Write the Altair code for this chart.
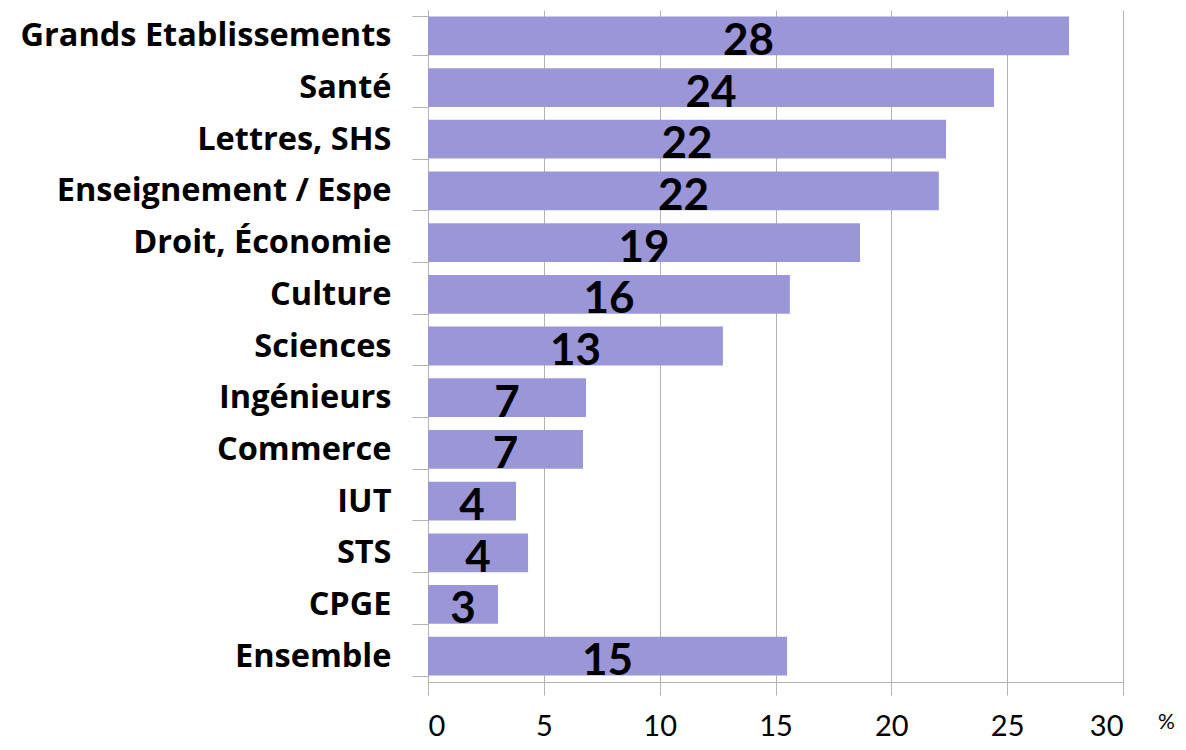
import altair as alt
import pandas as pd

categories = ["Grands Etablissements", "Santé", "Lettres, SHS", "Enseignement / Espe",
              "Droit, Économie", "Culture", "Sciences", "Ingénieurs", "Commerce",
              "IUT", "STS", "CPGE", "Ensemble"]
values = [27.67, 24.43, 22.36, 22.05, 18.65, 15.62, 12.73, 6.82, 6.69, 3.8, 4.32, 3.02, 15.5]
labels = ["28", "24", "22", "22", "19", "16", "13", "7", "7", "4", "4", "3", "15"]

df = pd.DataFrame({"cat": categories, "val": values, "lab": labels})
df["half"] = df["val"] / 2

FONT = "Lato"
LFONT = "Open Sans"
GRID = "#b3b3b3"

y_enc = alt.Y("cat:N", sort=categories,
              scale=alt.Scale(paddingInner=0.25, paddingOuter=0.125),
              axis=alt.Axis(title=None, labelFont=LFONT, labelFontSize=32.5, labelFontWeight="bold",
                            labelColor="#000", labelPadding=21, tickSize=16, tickColor=GRID,
                            domainColor=GRID, tickBand="extent", labelLimit=500))

bars = alt.Chart(df).mark_bar(color="#9b96d8").encode(
    x=alt.X("val:Q", scale=alt.Scale(domain=[0, 30], nice=False),
            axis=alt.Axis(values=[0, 5, 10, 15, 20, 25, 30], grid=True, gridColor=GRID,
                          domainColor=GRID, tickColor=GRID, tickSize=13, labelPadding=17,
                          labelFont=FONT, labelFontSize=29, labelColor="#000",
                          title="%", titleFont=FONT, titleFontSize=21, titleFontWeight="normal",
                          titleColor="#000", titleX=738, titleY=40, titleAlign="center",
                          titleBaseline="middle", titleAnchor="start")),
    y=y_enc,
)

text = alt.Chart(df).mark_text(font=FONT, fontSize=44, fontWeight="bold", color="#000",
                               align="center", baseline="alphabetic", dy=19).encode(
    x="half:Q",
    y=alt.Y("cat:N", sort=categories),
    text="lab:N",
)

chart = (bars + text).properties(
    width=695, height=672,
    autosize=alt.AutoSizeParams(type="none"),
    padding={"left": 420, "top": 2, "right": 52, "bottom": 60},
).configure_view(stroke=None)

chart.save("out.html", embed_options={"renderer": "svg", "actions": False})
